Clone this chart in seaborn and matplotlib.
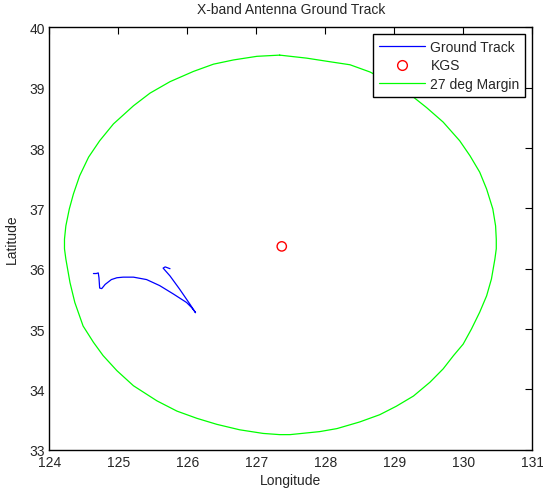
import matplotlib
matplotlib.use("Agg")
import matplotlib.pyplot as plt
import seaborn as sns
import pandas as pd
from matplotlib.lines import Line2D

# Ground track (longitude, latitude)
track_lon = [124.64, 124.68, 124.71, 124.72, 124.73, 124.76, 124.81, 124.90, 124.98, 125.07,
             125.22, 125.41, 125.60, 125.80, 125.99, 126.06, 126.11, 126.12, 126.04, 125.89,
             125.75, 125.65, 125.68, 125.75]
track_lat = [35.92, 35.92, 35.93, 35.85, 35.68, 35.67, 35.74, 35.82, 35.85, 35.86,
             35.86, 35.82, 35.72, 35.58, 35.44, 35.36, 35.29, 35.27, 35.41, 35.66,
             35.88, 36.01, 36.03, 36.00]

# Ground station
kgs_lon = [127.37]
kgs_lat = [36.37]

# 27 deg elevation margin contour
margin_lon = [127.34, 127.01, 126.67, 126.38, 126.09, 125.75, 125.46, 125.22, 124.93, 124.73,
              124.57, 124.44, 124.35, 124.29, 124.24, 124.22, 124.22, 124.24, 124.30, 124.37,
              124.49, 124.64, 124.78, 124.98, 125.22, 125.56, 125.85, 126.14, 126.43, 126.76,
              127.10, 127.34, 127.49, 127.92, 128.17, 128.50, 128.79, 129.03, 129.28, 129.52,
              129.71, 129.86, 130.00, 130.12, 130.24, 130.34, 130.41, 130.46, 130.48, 130.48,
              130.47, 130.43, 130.34, 130.24, 130.10, 129.95, 129.71, 129.47, 129.25, 128.95,
              128.65, 128.36, 128.07, 127.73, 127.34]
margin_lat = [39.54, 39.52, 39.46, 39.39, 39.27, 39.10, 38.91, 38.70, 38.40, 38.12,
              37.85, 37.54, 37.24, 36.99, 36.71, 36.49, 36.33, 36.16, 35.77, 35.44,
              35.05, 34.78, 34.56, 34.31, 34.06, 33.81, 33.64, 33.52, 33.42, 33.33,
              33.27, 33.25, 33.25, 33.30, 33.35, 33.46, 33.58, 33.72, 33.89, 34.12,
              34.34, 34.56, 34.75, 35.00, 35.28, 35.55, 35.83, 36.16, 36.33, 36.49,
              36.71, 36.99, 37.32, 37.60, 37.87, 38.12, 38.43, 38.67, 38.87, 39.08,
              39.26, 39.38, 39.43, 39.49, 39.54]

x_ticks = [124, 125, 126, 127, 128, 129, 130, 131]
y_ticks = [33, 34, 35, 36, 37, 38, 39, 40]

sns.set_theme(style="white")
plt.rcParams['font.family'] = ['Liberation Sans', 'DejaVu Sans']
plt.rcParams['xtick.direction'] = 'in'
plt.rcParams['ytick.direction'] = 'in'

FS = 10

fig = plt.figure(figsize=(5.43, 4.89), dpi=100)
ax = fig.add_axes([0.0908, 0.0783, 0.8892, 0.8637])

track = pd.DataFrame({"lon": track_lon, "lat": track_lat})
margin = pd.DataFrame({"lon": margin_lon, "lat": margin_lat})
kgs = pd.DataFrame({"lon": kgs_lon, "lat": kgs_lat})

sns.lineplot(data=track, x="lon", y="lat", sort=False, estimator=None, color="#0000ff",
             linewidth=0.9, ax=ax)
sns.lineplot(data=margin, x="lon", y="lat", sort=False, estimator=None, color="#00ff00",
             linewidth=0.9, ax=ax)
ax.scatter(kgs["lon"], kgs["lat"], s=45, facecolors="none", edgecolors="red", linewidths=1.0,
           zorder=5)

ax.set_xlim(124, 131)
ax.set_ylim(33, 40)
ax.set_xticks(x_ticks)
ax.set_yticks(y_ticks)
ax.set_xticklabels([str(t) for t in x_ticks])
ax.set_yticklabels([str(t) for t in y_ticks])
ax.tick_params(axis='both', which='both', direction='in', length=5, width=0.8,
               top=True, right=True, labelsize=FS, color='black')
ax.tick_params(axis='x', pad=4)
ax.tick_params(axis='y', pad=3)
for s in ax.spines.values():
    s.set_color('black')
    s.set_linewidth(1.0)

ax.set_xlabel("Longitude", fontsize=FS, labelpad=3)
ax.set_ylabel("Latitude", fontsize=FS, labelpad=8)
ax.set_title("X-band Antenna Ground Track", fontsize=FS, pad=10)

handles = [
    Line2D([], [], color="#0000ff", linewidth=0.9),
    Line2D([], [], color="red", marker="o", linestyle="none", markerfacecolor="none",
           markersize=7, markeredgewidth=1.0),
    Line2D([], [], color="#00ff00", linewidth=0.9),
]
labels = ["Ground Track", "KGS", "27 deg Margin"]
leg = ax.legend(handles, labels, loc="upper right", fontsize=FS, frameon=True,
                fancybox=False, edgecolor="black", framealpha=1, handlelength=3.3,
                borderaxespad=0.5, labelspacing=0.33, handletextpad=0.4, borderpad=0.4)
leg.get_frame().set_linewidth(1.0)

fig.savefig("out.png", dpi=100)
